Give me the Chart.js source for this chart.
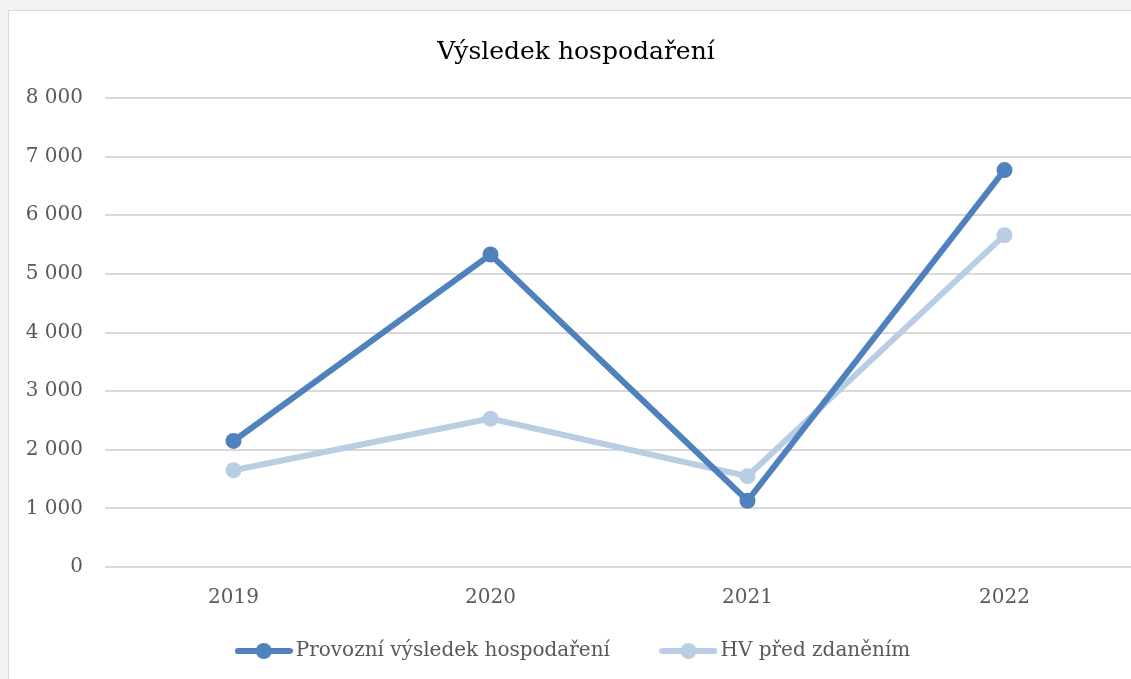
<!DOCTYPE html>
<html>
<head>
<meta charset="utf-8">
<script src="https://cdn.jsdelivr.net/npm/chart.js@4"></script>
<style>
    html, body { margin: 0; padding: 0; overflow: hidden; background: #f2f2f2; }
    .chart-box {
        position: absolute; left: 8px; top: 10px;
        width: 1132px; height: 680px;
        background: #fff; border: 1px solid #d9d9d9;
    }
</style>
</head>
<body>
<div class="chart-box"><canvas id="vysledekChart"></canvas></div>
<script>
const years = ['2019', '2020', '2021', '2022'];
const provozniVH = [2150, 5330, 1130, 6770];
const hvPredZdanenim = [1650, 2530, 1550, 5660];
const yTicks = [0, 1000, 2000, 3000, 4000, 5000, 6000, 7000, 8000];

const darkBlue = '#4f81bd';
const lightBlue = '#b9cde5';
const fontFamily = "'DejaVu Serif', serif";

// legend swatch: line with a dot in the middle
function legendSwatch(color) {
    const c = document.createElement('canvas');
    c.width = 58; c.height = 18;
    const ctx = c.getContext('2d');
    ctx.strokeStyle = color;
    ctx.lineWidth = 6;
    ctx.lineCap = 'round';
    ctx.beginPath();
    ctx.moveTo(3, 9); ctx.lineTo(55, 9);
    ctx.stroke();
    ctx.fillStyle = color;
    ctx.beginPath();
    ctx.arc(29, 9, 8, 0, Math.PI * 2);
    ctx.fill();
    return c;
}

const formatThousands = v => String(v).replace(/\B(?=(\d{3})+(?!\d))/g, ' ');

const canvas = document.getElementById('vysledekChart');
canvas.width = 1132;
canvas.height = 680;

new Chart(canvas, {
    type: 'line',
    data: {
        labels: years,
        datasets: [{
            label: 'Provozní výsledek hospodaření',
            data: provozniVH,
            borderColor: darkBlue,
            backgroundColor: darkBlue,
            borderWidth: 6,
            pointRadius: 8,
            pointBorderWidth: 0,
            pointStyle: 'circle',
            tension: 0
        }, {
            label: 'HV před zdaněním',
            data: hvPredZdanenim,
            borderColor: lightBlue,
            backgroundColor: lightBlue,
            borderWidth: 6,
            pointRadius: 8,
            pointBorderWidth: 0,
            pointStyle: 'circle',
            tension: 0
        }]
    },
    options: {
        responsive: false,
        animation: false,
        layout: {
            padding: { left: 8, right: 6, top: 0, bottom: 20 }
        },
        plugins: {
            title: {
                display: true,
                text: 'Výsledek hospodaření',
                color: '#000',
                font: { family: fontFamily, size: 25, weight: 'normal' },
                padding: { top: 26, bottom: 31 }
            },
            legend: {
                position: 'bottom',
                labels: {
                    color: '#595959',
                    font: { family: fontFamily, size: 20 },
                    usePointStyle: true,
                    pointStyleWidth: 44,
                    padding: 12,
                    // trailing spaces on the first item widen the gap between entries
                    generateLabels: chart => chart.data.datasets.map((ds, i) => ({
                        text: i === 0 ? ds.label + '\u00a0\u00a0\u00a0\u00a0\u00a0\u00a0\u00a0' : ds.label,
                        pointStyle: legendSwatch(ds.borderColor),
                        fillStyle: ds.borderColor,
                        strokeStyle: ds.borderColor,
                        lineWidth: 0,
                        fontColor: '#595959',
                        hidden: false,
                        datasetIndex: i
                    }))
                }
            },
            tooltip: { enabled: false }
        },
        scales: {
            y: {
                min: 0,
                max: 8000,
                afterBuildTicks: scale => {
                    scale.ticks = yTicks.map(v => ({ value: v }));
                },
                afterFit: scale => { scale.width = 88; },
                ticks: {
                    color: '#595959',
                    font: { family: fontFamily, size: 20 },
                    padding: 22,
                    callback: v => formatThousands(v)
                },
                grid: { color: '#d9d9d9', lineWidth: 2, drawTicks: false },
                border: { display: false }
            },
            x: {
                offset: true,
                ticks: {
                    color: '#595959',
                    font: { family: fontFamily, size: 20 },
                    padding: 19
                },
                grid: { display: false, drawTicks: false },
                border: { display: false }
            }
        }
    }
});
</script>
</body>
</html>
